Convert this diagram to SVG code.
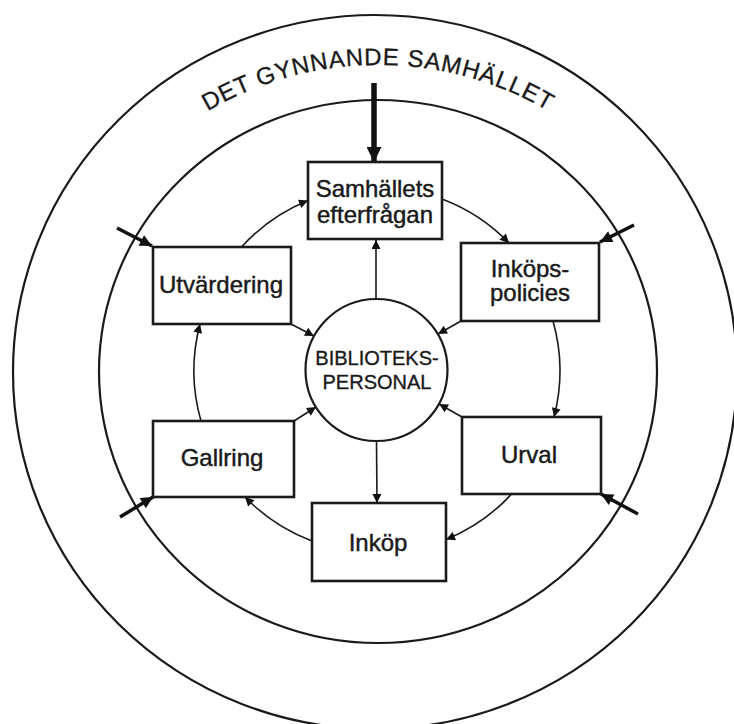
<svg xmlns="http://www.w3.org/2000/svg" width="734" height="724" viewBox="0 0 734 724">
<style>
.ring{fill:none;stroke:#1a1a1a;stroke-width:2.2}
.box{fill:#fff;stroke:#1a1a1a;stroke-width:2.6}
.lbl{font-family:"Liberation Sans",Arial,sans-serif;font-size:24px;fill:#1a1a1a;stroke:#1a1a1a;stroke-width:0.45;text-anchor:middle}
.ctr{font-family:"Liberation Sans",Arial,sans-serif;font-size:20px;fill:#1a1a1a;stroke:#1a1a1a;stroke-width:0.35;text-anchor:middle}
.title{font-family:"Liberation Sans",Arial,sans-serif;font-size:24px;fill:#1a1a1a;stroke:#1a1a1a;stroke-width:0.3;letter-spacing:0.8px}
.cyc{fill:none;stroke:#1a1a1a;stroke-width:1.6;marker-end:url(#arr)}
.spoke{fill:none;stroke:#1a1a1a;stroke-width:1.6;marker-end:url(#arr)}
.corner{fill:none;stroke:#111;stroke-width:3.5;marker-end:url(#arrB)}
.big{fill:none;stroke:#111;stroke-width:5.5;marker-end:url(#arrT)}
</style>
<defs>
<marker id="arr" viewBox="0 0 10 10" refX="10" refY="5" markerWidth="13" markerHeight="9" markerUnits="userSpaceOnUse" orient="auto"><path d="M0,0 L10,5 L0,10 z" fill="#111"/></marker>
<marker id="arrB" viewBox="0 0 10 10" refX="10" refY="5" markerWidth="17" markerHeight="12" markerUnits="userSpaceOnUse" orient="auto"><path d="M0,0 L10,5 L0,10 z" fill="#111"/></marker>
<marker id="arrT" viewBox="0 0 10 10" refX="10" refY="5" markerWidth="22" markerHeight="15" markerUnits="userSpaceOnUse" orient="auto"><path d="M0,0 L10,5 L0,10 z" fill="#111"/></marker>
<path id="titleArc" d="M139.7,163.7 A337,337 0 0 1 616.3,163.7"/>
</defs>
<rect width="734" height="724" fill="#fff"/>
<g id="rings">
<ellipse class="ring" cx="375" cy="372" rx="362" ry="357"/>
<ellipse class="ring" cx="378" cy="371.5" rx="279" ry="271.5"/>
<text class="title"><textPath href="#titleArc" startOffset="50%" text-anchor="middle">DET GYNNANDE SAMHÄLLET</textPath></text>
</g>
<g id="connectors">
<path class="big" d="M374,83 L374,162"/>
<path class="corner" d="M117,228 L152,246"/>
<path class="corner" d="M634,225 L600,242"/>
<path class="corner" d="M120,517 L153,497"/>
<path class="corner" d="M638,514 L601,494"/>
<path class="cyc" d="M442,199 A183,183 0 0 1 509,243"/>
<path class="cyc" d="M553,321 A183,183 0 0 1 554,417"/>
<path class="cyc" d="M511.6,494 A183,183 0 0 1 446,539.5"/>
<path class="cyc" d="M312,541 A183,183 0 0 1 245,497"/>
<path class="cyc" d="M201,421 A183,183 0 0 1 200,324"/>
<path class="cyc" d="M241.5,247 A183,183 0 0 1 308,200.5"/>
<path class="spoke" d="M376,299 L376,240"/>
<path class="spoke" d="M376.5,441 L377,503"/>
<path class="spoke" d="M291,324 L314,336"/>
<path class="spoke" d="M461,321 L438,334"/>
<path class="spoke" d="M294,421 L316,407"/>
<path class="spoke" d="M462,417 L439,404"/>
</g>
<g id="samhallets">
<rect class="box" x="308" y="162" width="134" height="77"/>
<text class="lbl" x="375" y="197">Samhällets</text>
<text class="lbl" x="375" y="223">efterfrågan</text>
</g>
<g id="inkopspolicies">
<rect class="box" x="461" y="243" width="138" height="78"/>
<text class="lbl" x="530" y="276.5">Inköps-</text>
<text class="lbl" x="530" y="301">policies</text>
</g>
<g id="urval">
<rect class="box" x="462" y="417" width="139" height="77"/>
<text class="lbl" x="529" y="463">Urval</text>
</g>
<g id="inkop">
<rect class="box" x="312" y="503" width="134" height="78"/>
<text class="lbl" x="378" y="551">Inköp</text>
</g>
<g id="gallring">
<rect class="box" x="153" y="421" width="141" height="76"/>
<text class="lbl" x="222" y="466">Gallring</text>
</g>
<g id="utvardering">
<rect class="box" x="153" y="247" width="138" height="77"/>
<text class="lbl" x="221" y="293">Utvärdering</text>
</g>
<g id="bibliotekspersonal">
<circle cx="376.5" cy="370" r="71" fill="#fff" stroke="#1a1a1a" stroke-width="2.2"/>
<text class="ctr" x="377" y="365">BIBLIOTEKS-</text>
<text class="ctr" x="377" y="389">PERSONAL</text>
</g>
</svg>
